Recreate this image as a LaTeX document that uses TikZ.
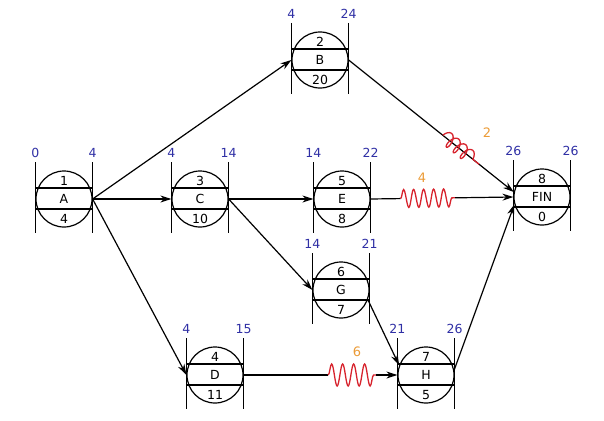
\documentclass[tikz,border=0pt]{standalone}
\usepackage{fontspec}
\setmainfont{DejaVu Sans}
\usetikzlibrary{arrows.meta,calc,decorations.pathmorphing}
\definecolor{netblue}{RGB}{48,48,165}
\definecolor{netorange}{RGB}{235,155,55}
\definecolor{netred}{RGB}{215,35,45}
\tikzset{
  actcirc/.style={circle,draw,line width=1.2pt,minimum size=56pt,inner sep=0pt},
  timelab/.style={text=netblue},
  floatlab/.style={text=netorange,font=\fontsize{13}{15}\selectfont},
  link/.style={line width=1.2pt,-{Stealth[length=11pt,width=7pt]}},
  wave/.style={netred,line width=1.3pt,decorate,decoration={snake,amplitude=9pt,segment length=10pt}},
}
% \actnode{name}{x}{y}{no.}{label}{duration}{ES}{EF}
\newcommand{\actnode}[8]{%
  \node[actcirc] (#1) at (#2,#3) {};%
  \draw[line width=1.2pt] ([yshift=37pt]#1.west) -- ([yshift=-34pt]#1.west);%
  \draw[line width=1.2pt] ([yshift=37pt]#1.east) -- ([yshift=-34pt]#1.east);%
  \draw[line width=1.2pt] ([yshift=11pt]#1.west) -- ([yshift=11pt]#1.east);%
  \draw[line width=1.2pt] ([yshift=-10pt]#1.west) -- ([yshift=-10pt]#1.east);%
  \node (#1-no) at ([yshift=18pt]#1.center) {#4};%
  \node (#1-lab) at (#1.center) {#5};%
  \node (#1-dur) at ([yshift=-20pt]#1.center) {#6};%
  \node[timelab] (#1-es) at ([yshift=46pt]#1.west) {#7};%
  \node[timelab] (#1-ef) at ([yshift=46pt]#1.east) {#8};}

\begin{document}
\begin{tikzpicture}[x=1pt,y=-1pt,font=\fontsize{12.5}{15}\selectfont]
  \useasboundingbox (0,0) rectangle (604,420);
  % --- activities ---
  \actnode{A}{64}{199}{1}{A}{4}{0}{4}
  \actnode{B}{320}{60}{2}{B}{20}{4}{24}
  \actnode{C}{200}{199}{3}{C}{10}{4}{14}
  \actnode{E}{342}{199}{5}{E}{8}{14}{22}
  \actnode{G}{341}{290}{6}{G}{7}{14}{21}
  \actnode{D}{215}{375}{4}{D}{11}{4}{15}
  \actnode{H}{426}{375}{7}{H}{5}{21}{26}
  \actnode{FIN}{542}{197}{8}{FIN}{0}{26}{26}
  % --- dependencies ---
  \foreach \s/\t in {A.east/B.west, A.east/C.west, A.east/D.west,
        C.east/E.west, C.east/G.west, D.east/H.west, G.-20/H.160,
        B.east/FIN.170, E.east/FIN.west, H.10/FIN.195}
    \draw[link] (\s) -- (\t);
  % --- free float ---
  \draw[netred,line width=1.3pt,decorate,decoration={coil,amplitude=7pt,segment length=9pt,aspect=0.5}]
    ($(B.east)!0.57!(FIN.170)$) -- ($(B.east)!0.79!(FIN.170)$);
  \draw[white,line width=3pt] ($(E.east)!0.21!(FIN.west)$) -- ($(E.east)!0.59!(FIN.west)$);
  \draw[wave] ($(E.east)!0.21!(FIN.west)$) -- ($(E.east)!0.59!(FIN.west)$);
  \draw[white,line width=3pt] ($(D.east)!0.55!(H.west)$) -- ($(D.east)!0.86!(H.west)$);
  \draw[wave,decoration={amplitude=11pt,segment length=11pt}] ($(D.east)!0.55!(H.west)$) -- ($(D.east)!0.86!(H.west)$);
  \node[floatlab] (fB) at (487,133) {2};
  \node[floatlab] (fE) at (422,178) {4};
  \node[floatlab] (fD) at (357,352) {6};
\end{tikzpicture}
\end{document}
